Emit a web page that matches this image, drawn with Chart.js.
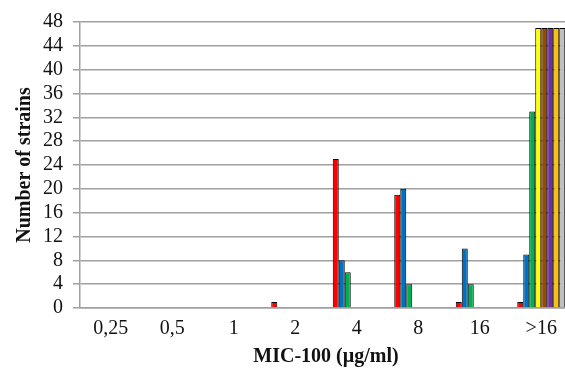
<!DOCTYPE html>
<html lang="en">
<head>
    <meta charset="UTF-8">
    <title>MIC-100 distribution</title>
    <script src="https://cdn.jsdelivr.net/npm/chart.js"></script>
    <style>
        html, body { margin: 0; padding: 0; background: #fff; overflow: hidden; }
        #wrap { position: absolute; left: 0; top: 0; width: 580px; height: 375px; }
    </style>
</head>
<body>
    <div id="wrap">
        <canvas id="micChart" width="580" height="375"></canvas>
    </div>

    <script>
        // MIC categories and counts per series
        const categories = ['0,25', '0,5', '1', '2', '4', '8', '16', '>16'];
        const seriesRed    = [0, 0, 0, 1, 25, 19, 1, 1];
        const seriesBlue   = [0, 0, 0, 0, 8, 20, 10, 9];
        const seriesGreen  = [0, 0, 0, 0, 6, 4, 4, 33];
        const seriesYellow = [0, 0, 0, 0, 0, 0, 0, 47];
        const seriesBrown  = [0, 0, 0, 0, 0, 0, 0, 47];
        const seriesPurple = [0, 0, 0, 0, 0, 0, 0, 47];
        const seriesOrange = [0, 0, 0, 0, 0, 0, 0, 47];
        const seriesGray   = [0, 0, 0, 0, 0, 0, 0, 47];

        const allSeries = [seriesRed, seriesBlue, seriesGreen, seriesYellow,
                           seriesBrown, seriesPurple, seriesOrange, seriesGray];
        const colors = ['#FF0000', '#0070C0', '#00B050', '#FFFF00',
                        '#984807', '#7030A0', '#FFC000', '#BFBFBF'];

        const serif = "'Liberation Serif', 'DejaVu Serif', serif";

        const ctx = document.getElementById('micChart').getContext('2d');
        new Chart(ctx, {
            type: 'bar',
            data: {
                labels: categories,
                datasets: allSeries.map((vals, i) => ({
                    data: vals,
                    backgroundColor: colors[i],
                    borderColor: '#000',
                    borderWidth: c => (c.raw ? 1 : 0), // no outline on empty bars
                    barPercentage: 1.0,
                    categoryPercentage: 0.78
                }))
            },
            options: {
                responsive: false,
                animation: false,
                layout: { padding: { left: 1, right: 8, top: 15, bottom: 4 } },
                plugins: {
                    legend: { display: false },
                    tooltip: { enabled: false }
                },
                scales: {
                    x: {
                        grid: { display: false, drawTicks: false },
                        border: { display: true, color: '#a0a0a0', width: 1.5 },
                        ticks: { color: '#111', padding: 9, font: { family: serif, size: 20 } },
                        title: {
                            display: true,
                            text: 'MIC-100 (µg/ml)',
                            color: '#111',
                            padding: { top: -5, bottom: 2 },
                            font: { family: serif, size: 20, weight: 'bold' }
                        }
                    },
                    y: {
                        min: 0,
                        max: 48,
                        ticks: { stepSize: 4, autoSkip: false, color: '#111', padding: 10, font: { family: serif, size: 20 } },
                        grid: { color: '#a0a0a0', lineWidth: 1.5, tickLength: 7 },
                        border: { color: '#a0a0a0', width: 1.5 },
                        title: {
                            display: true,
                            text: 'Number of strains',
                            color: '#111',
                            padding: { top: 12, bottom: -4 },
                            font: { family: serif, size: 20, weight: 'bold' }
                        }
                    }
                }
            }
        });
    </script>
</body>
</html>
